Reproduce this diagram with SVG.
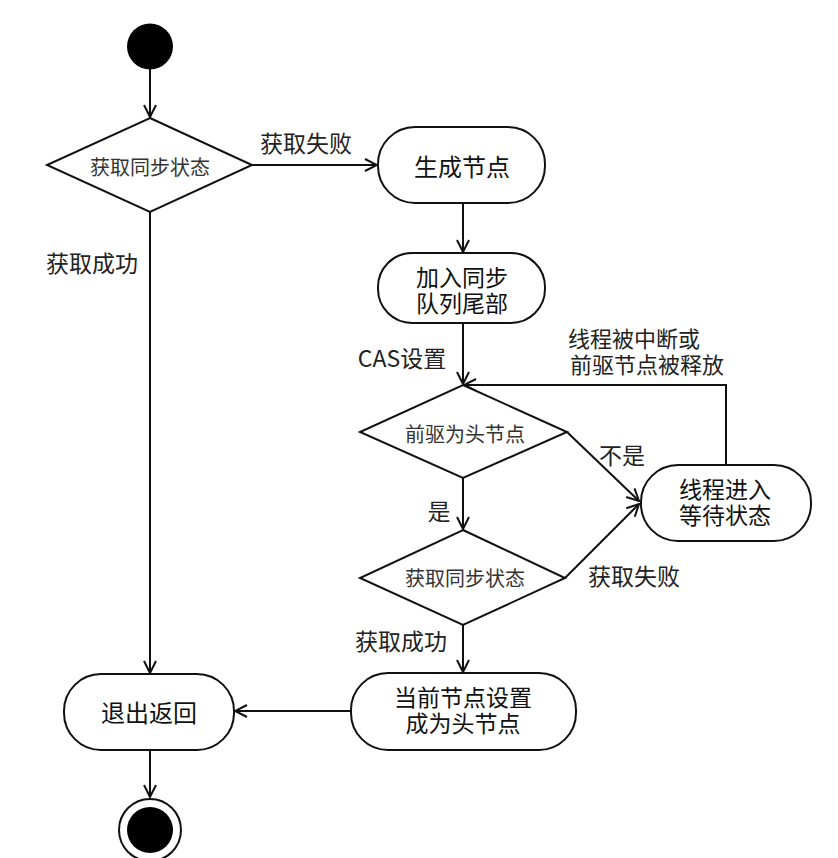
<svg xmlns="http://www.w3.org/2000/svg" width="838" height="858" viewBox="0 0 838 858">
<defs>
<style>
.n{fill:#fff;stroke:#111;stroke-width:2}
.t{font-family:"Noto Sans CJK SC","Liberation Sans",sans-serif;fill:#111;text-anchor:middle}
.k{dominant-baseline:central}
.b{font-size:24px}
.m{font-size:23px}
.d{font-size:20px;fill:#333}
.l{font-size:23px;fill:#222}
.s{font-size:22px;fill:#222}
.c{fill:none;stroke:#111;stroke-width:2}
</style>
<marker id="a" viewBox="0 0 14 14" refX="13" refY="7" markerWidth="14" markerHeight="14" markerUnits="userSpaceOnUse" orient="auto">
<path d="M1,1 L13,7 L1,13" fill="none" stroke="#111" stroke-width="2"/>
</marker>
</defs>
<rect width="838" height="858" fill="#fff"/>
<g id="connectors">
<line class="c" x1="150" y1="69" x2="150" y2="117" marker-end="url(#a)"/>
<line class="c" x1="252" y1="165" x2="377" y2="165" marker-end="url(#a)"/>
<line class="c" x1="463" y1="203" x2="463" y2="252" marker-end="url(#a)"/>
<line class="c" x1="463" y1="323" x2="463" y2="384" marker-end="url(#a)"/>
<polyline class="c" points="726,465 726,385 464,385" marker-end="url(#a)"/>
<line class="c" x1="463" y1="478" x2="463" y2="529" marker-end="url(#a)"/>
<line class="c" x1="567" y1="432" x2="639" y2="501" marker-end="url(#a)"/>
<line class="c" x1="565" y1="578" x2="639" y2="504" marker-end="url(#a)"/>
<line class="c" x1="463" y1="625" x2="463" y2="672" marker-end="url(#a)"/>
<line class="c" x1="150" y1="212" x2="150" y2="673" marker-end="url(#a)"/>
<line class="c" x1="351" y1="711" x2="235" y2="711" marker-end="url(#a)"/>
<line class="c" x1="150" y1="750" x2="150" y2="797" marker-end="url(#a)"/>
</g>
<g id="labels">
<text class="t k l" x="306" y="142">获取失败</text>
<text class="t k l" x="92" y="262">获取成功</text>
<text class="t k l" x="402" y="357">CAS设置</text>
<text class="t s" x="634" y="347">线程被中断或<tspan x="647" dy="26">前驱节点被释放</tspan></text>
<text class="t k l" x="622" y="454">不是</text>
<text class="t k l" x="439" y="510">是</text>
<text class="t k l" x="634" y="575">获取失败</text>
<text class="t k l" x="401" y="640">获取成功</text>
</g>
<g id="start"><circle cx="150" cy="46.5" r="23" fill="#000"/></g>
<g id="decision1">
<polygon class="n" points="150,118 252,165 150,212 47,165"/>
<text class="t k d" x="150" y="166">获取同步状态</text>
</g>
<g id="createNode">
<rect class="n" x="378" y="127" width="167" height="76" rx="37"/>
<text class="t k b" x="462" y="165">生成节点</text>
</g>
<g id="enqueue">
<rect class="n" x="378" y="253" width="167" height="70" rx="34"/>
<text class="t m" x="462" y="286">加入同步<tspan x="462" dy="26">队列尾部</tspan></text>
</g>
<g id="decision2">
<polygon class="n" points="463,385 567,432 463,478 360,432"/>
<text class="t k d" x="465" y="433">前驱为头节点</text>
</g>
<g id="decision3">
<polygon class="n" points="463,530 565,578 463,625 360,578"/>
<text class="t k d" x="465" y="577">获取同步状态</text>
</g>
<g id="wait">
<rect class="n" x="641" y="465" width="170" height="76" rx="37"/>
<text class="t m" x="725" y="498">线程进入<tspan x="725" dy="26">等待状态</tspan></text>
</g>
<g id="setHead">
<rect class="n" x="351" y="673" width="225" height="77" rx="37"/>
<text class="t m" x="463" y="706">当前节点设置<tspan x="463" dy="26">成为头节点</tspan></text>
</g>
<g id="exit">
<rect class="n" x="64" y="674" width="170" height="76" rx="37"/>
<text class="t k b" x="149" y="711">退出返回</text>
</g>
<g id="end">
<circle cx="150" cy="830" r="31" fill="#fff" stroke="#111" stroke-width="2"/>
<circle cx="150" cy="830" r="23" fill="#000"/>
</g>
</svg>
